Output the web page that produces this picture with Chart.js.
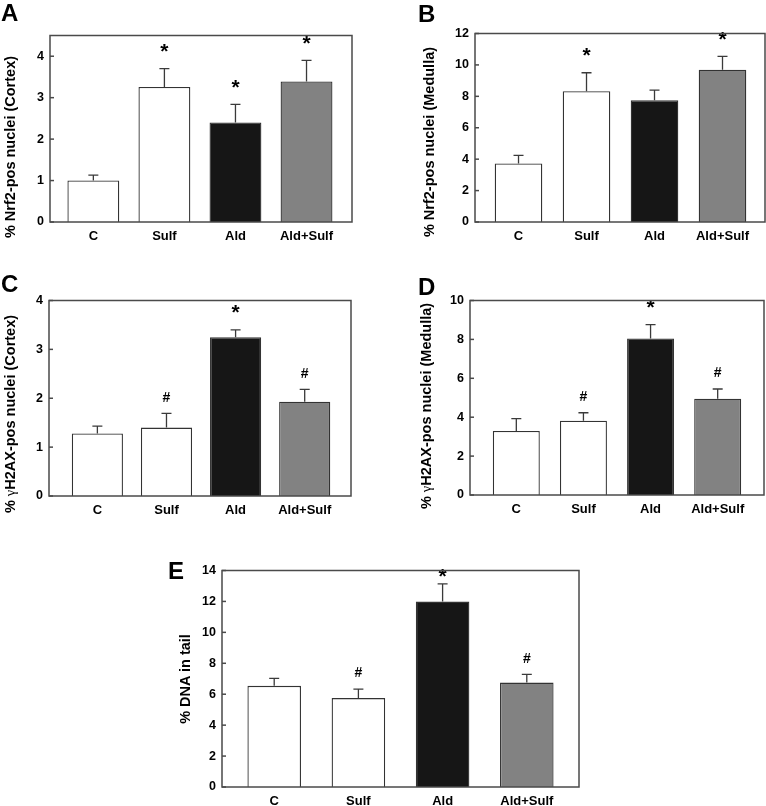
<!DOCTYPE html>
<html><head><meta charset="utf-8">
<script src="https://cdn.jsdelivr.net/npm/chart.js@4"></script>
<style>
html,body{margin:0;padding:0;background:#fff;width:766px;height:806px;overflow:hidden;position:relative;font-family:"Liberation Sans",Arial,sans-serif;}
canvas{position:absolute;}
.lbl{position:absolute;font-weight:bold;font-size:24px;line-height:24px;color:#000;}
.ytitle{position:absolute;font-weight:bold;font-size:14.5px;line-height:16px;white-space:nowrap;transform:translate(-50%,-50%) rotate(-90deg);color:#000;}
.g{font-family:"Liberation Serif","DejaVu Serif",serif;font-weight:normal;}
</style></head><body>
<script>
// ---- data ----
const categories = ['C', 'Sulf', 'Ald', 'Ald+Sulf'];

const nrf2CortexMean = [1.00, 3.26, 2.40, 3.39];
const nrf2CortexSem  = [0.13, 0.44, 0.44, 0.51];
const nrf2CortexSig  = ['', '*', '*', '*'];
const nrf2CortexTicks = [0, 1, 2, 3, 4];

const nrf2MedullaMean = [3.72, 8.33, 7.75, 9.70];
const nrf2MedullaSem  = [0.52, 1.17, 0.64, 0.84];
const nrf2MedullaSig  = ['', '*', '', '*'];
const nrf2MedullaTicks = [0, 2, 4, 6, 8, 10, 12];

const h2axCortexMean = [1.28, 1.40, 3.25, 1.93];
const h2axCortexSem  = [0.15, 0.29, 0.15, 0.25];
const h2axCortexSig  = ['', '#', '*', '#'];
const h2axCortexTicks = [0, 1, 2, 3, 4];

const h2axMedullaMean = [3.29, 3.82, 8.05, 4.95];
const h2axMedullaSem  = [0.64, 0.41, 0.71, 0.50];
const h2axMedullaSig  = ['', '#', '*', '#'];
const h2axMedullaTicks = [0, 2, 4, 6, 8, 10];

const dnaTailMean = [6.54, 5.75, 11.99, 6.75];
const dnaTailSem  = [0.49, 0.58, 1.15, 0.53];
const dnaTailSig  = ['', '#', '*', '#'];
const dnaTailTicks = [0, 2, 4, 6, 8, 10, 12, 14];

const panelLetters = ['A', 'B', 'C', 'D', 'E'];

// ---- styles / layout ----
const barColors = ['#ffffff', '#ffffff', '#161616', '#828282'];
Chart.defaults.font.family = '"Liberation Sans", Arial, sans-serif';
Chart.defaults.color = '#000';

const panels = [
  {letter: panelLetters[0], box: {l: 50, t: 32, r: 352, b: 222}, yMax: 4.5, ticks: nrf2CortexTicks,
   mean: nrf2CortexMean, sem: nrf2CortexSem, sig: nrf2CortexSig, pad: [0.61, 0.64], bp: 0.73,
   letterPos: [1, 1], title: '% Nrf2-pos nuclei (Cortex)', titlePos: [10, 147]},
  {letter: panelLetters[1], box: {l: 475, t: 30, r: 765, b: 222}, yMax: 12, ticks: nrf2MedullaTicks,
   mean: nrf2MedullaMean, sem: nrf2MedullaSem, sig: nrf2MedullaSig, pad: [0.64, 0.625], bp: 0.70,
   letterPos: [418, 2], title: '% Nrf2-pos nuclei (Medulla)', titlePos: [429, 142]},
  {letter: panelLetters[2], box: {l: 49, t: 297, r: 351, b: 496}, yMax: 4, ticks: h2axCortexTicks,
   mean: h2axCortexMean, sem: h2axCortexSem, sig: h2axCortexSig, pad: [0.70, 0.67], bp: 0.74,
   letterPos: [1, 272], title: '% <span class="g">\u03b3</span>H2AX-pos nuclei (Cortex)', titlePos: [10, 414]},
  {letter: panelLetters[3], box: {l: 470, t: 297, r: 764, b: 495}, yMax: 10, ticks: h2axMedullaTicks,
   mean: h2axMedullaMean, sem: h2axMedullaSem, sig: h2axMedullaSig, pad: [0.69, 0.69], bp: 0.70,
   letterPos: [418, 275], title: '% <span class="g">\u03b3</span>H2AX-pos nuclei (Medulla)', titlePos: [426, 406]},
  {letter: panelLetters[4], box: {l: 222, t: 567, r: 579, b: 787}, yMax: 14, ticks: dnaTailTicks,
   mean: dnaTailMean, sem: dnaTailSem, sig: dnaTailSig, pad: [0.62, 0.62], bp: 0.636,
   letterPos: [168, 559], title: '% DNA in tail', titlePos: [185, 679]},
];

function overlayPlugin(p) {
  return {
    id: 'overlay',
    afterDatasetsDraw(chart) {
      const {ctx, chartArea: a, scales: {x, y}} = chart;
      ctx.save();
      ctx.strokeStyle = '#3a3a3a';
      ctx.lineWidth = 1.3;
      p.mean.forEach((m, i) => {
        const px = x.getPixelForValue(i);
        const y0 = y.getPixelForValue(m);
        const y1 = y.getPixelForValue(m + p.sem[i]);
        ctx.beginPath();
        ctx.moveTo(px, y0); ctx.lineTo(px, y1);
        ctx.moveTo(px - 5, y1); ctx.lineTo(px + 5, y1);
        ctx.stroke();
        const s = p.sig[i];
        if (s) {
          const cy = Math.max(y1 - 16, a.top + 7);
          ctx.fillStyle = '#000';
          ctx.textAlign = 'center';
          ctx.textBaseline = 'alphabetic';
          if (s === '*') {
            ctx.font = 'bold 21px "Liberation Sans", Arial, sans-serif';
            ctx.fillText(s, px, cy + 0.25 * 21);
          } else {
            ctx.font = 'bold 14px "Liberation Sans", Arial, sans-serif';
            ctx.fillText(s, px, cy + 0.3 * 14);
          }
        }
      });
      ctx.strokeStyle = '#4a4a4a';
      ctx.lineWidth = 1.5;
      ctx.strokeRect(a.left, a.top, a.right - a.left, a.bottom - a.top);
      y.ticks.forEach(t => {
        const py = y.getPixelForValue(t.value);
        ctx.beginPath(); ctx.moveTo(a.left, py); ctx.lineTo(a.left + 4, py); ctx.stroke();
      });
      ctx.restore();
    }
  };
}

panels.forEach(p => {
  const Y_W = 50, X_H = 30, PT = 10, PR = 5;
  const cv = document.createElement('canvas');
  const w = p.box.r - p.box.l + Y_W + PR;
  const h = p.box.b - p.box.t + PT + X_H;
  cv.width = w; cv.height = h;
  cv.style.left = (p.box.l - Y_W) + 'px';
  cv.style.top = (p.box.t - PT) + 'px';
  cv.style.width = w + 'px'; cv.style.height = h + 'px';
  document.body.appendChild(cv);

  new Chart(cv, {
    type: 'bar',
    data: {
      datasets: [{
        data: categories.map((c, i) => ({x: i, y: p.mean[i]})),
        backgroundColor: barColors,
        borderColor: '#333333',
        borderWidth: 1.3,
        borderSkipped: 'start',
        barPercentage: p.bp,
        categoryPercentage: 1
      }]
    },
    options: {
      responsive: false,
      animation: false,
      devicePixelRatio: 1,
      layout: {padding: {left: 0, top: PT, right: PR, bottom: 0}},
      plugins: {legend: {display: false}, tooltip: {enabled: false}},
      scales: {
        x: {
          type: 'linear', offset: false, min: -p.pad[0], max: categories.length - 1 + p.pad[1],
          grid: {display: false, drawTicks: false, offset: false}, border: {display: false},
          afterBuildTicks: s => { s.ticks = categories.map((c, i) => ({value: i})); },
          afterFit: s => { s.height = X_H; },
          ticks: {autoSkip: false, maxRotation: 0, padding: 7, color: '#000',
                  font: {size: 13, weight: 'bold'},
                  callback: v => categories[v] !== undefined ? categories[v] : ''}
        },
        y: {
          type: 'linear', min: 0, max: p.yMax,
          grid: {display: false, drawTicks: false}, border: {display: false},
          afterBuildTicks: s => { s.ticks = p.ticks.map(v => ({value: v})); },
          afterFit: s => { s.width = Y_W; },
          ticks: {padding: 6, color: '#000', font: {size: 12.5, weight: 'bold'}}
        }
      }
    },
    plugins: [overlayPlugin(p)]
  });

  const L = document.createElement('div');
  L.className = 'lbl';
  L.textContent = p.letter;
  L.style.left = p.letterPos[0] + 'px';
  L.style.top = p.letterPos[1] + 'px';
  document.body.appendChild(L);

  const T = document.createElement('div');
  T.className = 'ytitle';
  T.innerHTML = p.title;
  T.style.left = p.titlePos[0] + 'px';
  T.style.top = p.titlePos[1] + 'px';
  document.body.appendChild(T);
});
</script>
</body></html>
